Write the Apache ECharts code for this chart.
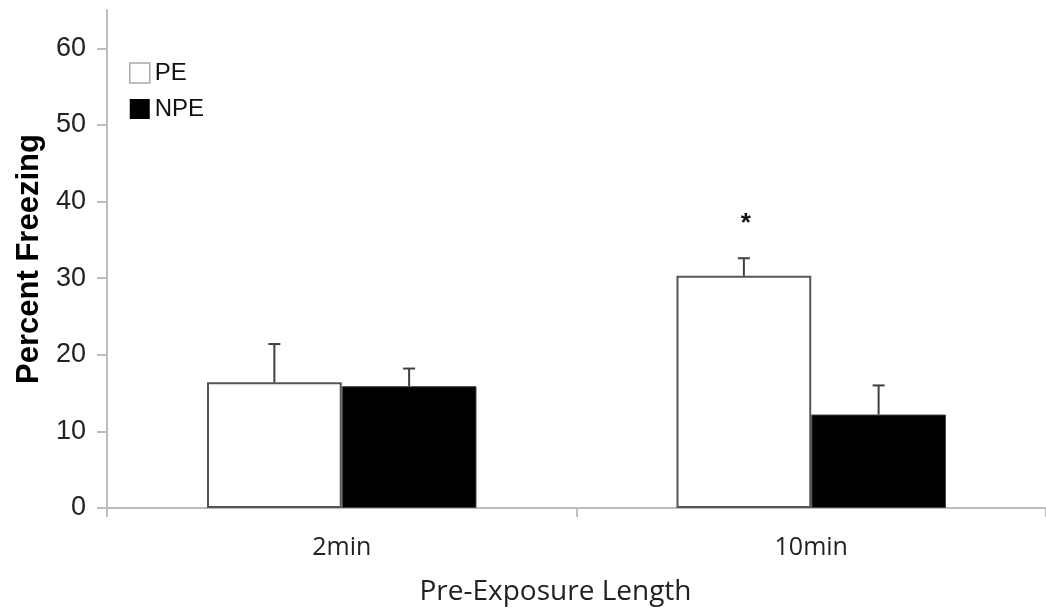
<!DOCTYPE html>
<html><head><meta charset="utf-8">
<script src="https://cdn.jsdelivr.net/npm/echarts@6/dist/echarts.min.js"></script>
<style>html,body{margin:0;padding:0;background:#fff}#c{width:1046px;height:616px}</style>
</head><body><div id="c"></div>
<script>
var categories = ['2min', '10min'];
var peValues = [16.4, 30.3];
var peErrors = [5.0, 2.3];
var npeValues = [15.9, 12.2];
var npeErrors = [2.3, 3.8];
var peSignif = ['', '*'];
var npeSignif = ['', ''];
var yTicks = [0, 10, 20, 30, 40, 50, 60];

var BAR_FRAC = 0.287;
function errSeries(name, vals, errs, sig, side) {
  return {
    type: 'custom', name: name + ' err', silent: true, z: 5,
    data: vals.map(function (v, i) { return [i, v, errs[i], sig[i]]; }),
    renderItem: function (params, api) {
      var band = api.size([1, 0])[0];
      var off = side * band * BAR_FRAC / 2;
      var base = api.coord([api.value(0), api.value(1)]);
      var top = api.coord([api.value(0), api.value(1) + api.value(2)]);
      var x = base[0] + off;
      var st = { stroke: '#404040', lineWidth: 2 };
      var ch = [
        { type: 'line', shape: { x1: x, y1: base[1], x2: x, y2: top[1] }, style: st },
        { type: 'line', shape: { x1: x - 6, y1: top[1], x2: x + 6, y2: top[1] }, style: st }
      ];
      var s = sig[params.dataIndex];
      if (s) {
        ch.push({ type: 'text', x: x + 2, y: top[1] - 34,
          style: { text: s, fill: '#111', font: 'bold 26px "Liberation Sans", Arial', align: 'center', verticalAlign: 'middle' } });
      }
      return { type: 'group', children: ch };
    }
  };
}

var chart = echarts.init(document.getElementById('c'));
chart.setOption({
  animation: false,
  backgroundColor: '#fff',
  grid: { left: 107, right: -1, top: 10, bottom: 108, containLabel: false },
  legend: {
    orient: 'vertical', left: 124, top: 56, itemWidth: 20, itemHeight: 20, itemGap: 12,
    icon: 'rect',
    textStyle: { fontFamily: '"Liberation Sans", Arial', fontSize: 24, color: '#111' },
    data: [
      { name: 'PE', itemStyle: { color: '#fff', borderColor: '#aaa', borderWidth: 1.5 } },
      { name: 'NPE', itemStyle: { color: '#000', borderColor: '#000', borderWidth: 0 } }
    ]
  },
  xAxis: {
    type: 'category', data: categories,
    axisLine: { lineStyle: { color: '#bdbdbd', width: 2 } },
    axisTick: { show: true, length: 9, lineStyle: { color: '#bdbdbd', width: 2 } },
    axisLabel: { margin: 27, fontFamily: '"Open Sans", sans-serif', fontSize: 25, color: '#222' },
    name: 'Pre-Exposure Length', nameLocation: 'middle', nameGap: 70,
    nameTextStyle: { fontFamily: '"Open Sans", sans-serif', fontSize: 28, color: '#222', padding: [0, 42, 0, 0] }
  },
  yAxis: {
    type: 'value', min: 0, max: 65,
    splitLine: { show: false },
    axisLine: { show: true, lineStyle: { color: '#bdbdbd', width: 2 } },
    axisTick: { show: true, length: 10, customValues: yTicks, lineStyle: { color: '#bdbdbd', width: 2 } },
    axisLabel: { customValues: yTicks, margin: 21, fontFamily: '"Liberation Sans", Arial', fontSize: 27, color: '#222' },
    name: 'Percent Freezing', nameLocation: 'middle', nameGap: 58,
    nameTextStyle: { fontFamily: '"Liberation Sans", Arial', fontWeight: 'bold', fontSize: 31, color: '#000' }
  },
  series: [
    { type: 'bar', name: 'PE', data: peValues, barWidth: (BAR_FRAC * 100) + '%', barGap: '0%',
      itemStyle: { color: '#fff', borderColor: '#555', borderWidth: 2 } },
    { type: 'bar', name: 'NPE', data: npeValues, barWidth: (BAR_FRAC * 100) + '%', barGap: '0%',
      itemStyle: { color: '#000', borderColor: '#444', borderWidth: 1 } },
    errSeries('PE', peValues, peErrors, peSignif, -1),
    errSeries('NPE', npeValues, npeErrors, npeSignif, 1)
  ]
});
</script></body></html>
